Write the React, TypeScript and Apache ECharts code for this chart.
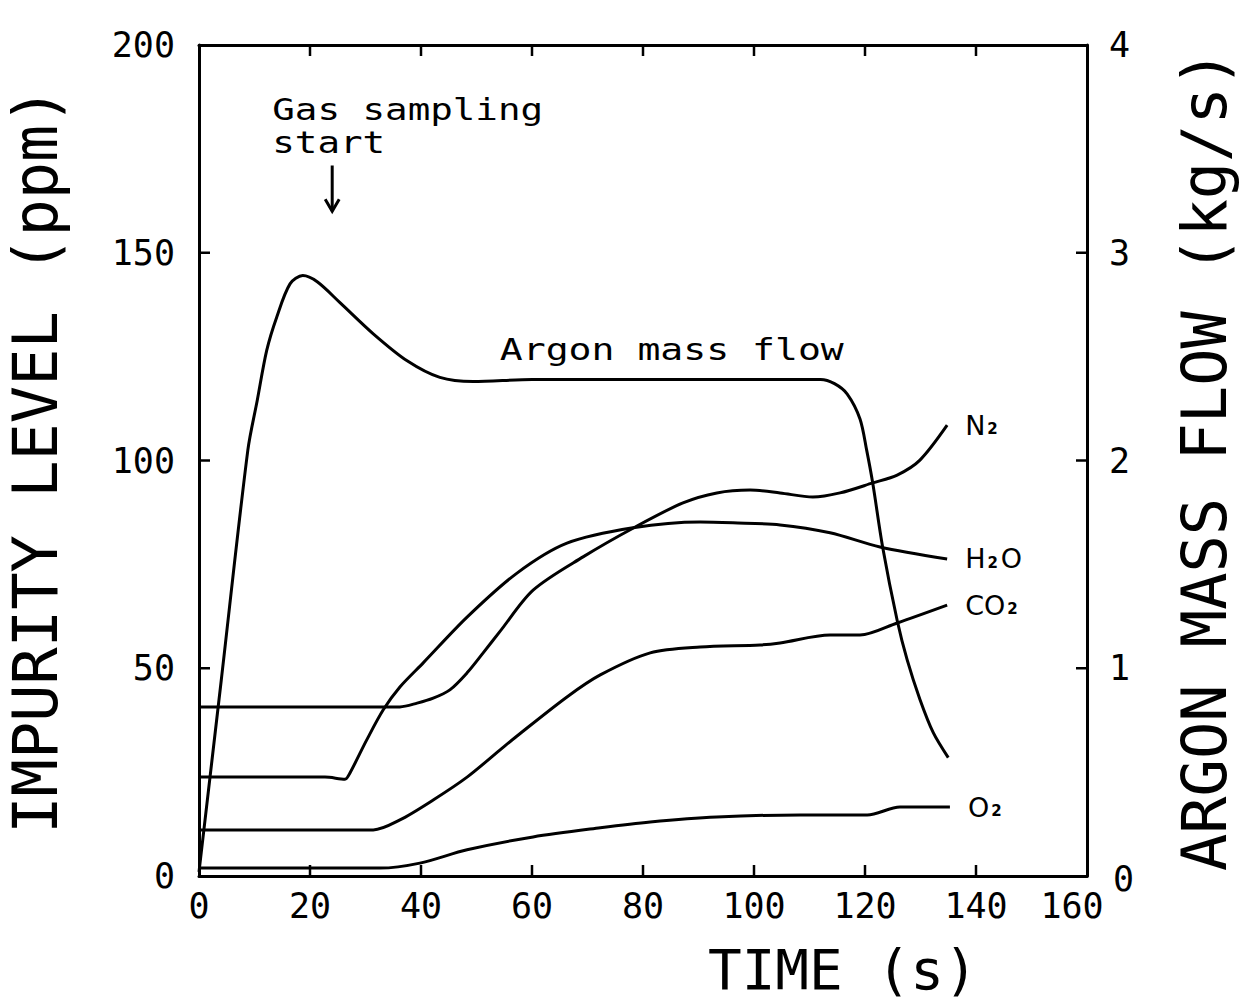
import React, { useEffect, useRef } from "react";
import * as echarts from "echarts";

// Axis ticks
const xTicks = [0, 20, 40, 60, 80, 100, 120, 140, 160];
const ppmTicks = [0, 50, 100, 150, 200];
const flowTicks = [0, 1, 2, 3, 4];

// Argon mass flow (kg/s), right axis
const argonTime = [0, 4, 8.8, 10.5, 12.2, 14, 16.4, 18.7, 21.3, 25.4, 31.4, 37.5, 43.4, 49.4, 60, 80, 100, 112, 114.5, 116.8, 119.1, 120.3, 121.4, 123.2, 125.8, 127.6, 129.9, 132.3, 135];
const argonFlow = [0.02, 0.94, 2.05, 2.29, 2.53, 2.69, 2.85, 2.89, 2.86, 2.76, 2.61, 2.48, 2.4, 2.38, 2.39, 2.39, 2.39, 2.39, 2.37, 2.32, 2.2, 2.05, 1.89, 1.58, 1.23, 1.04, 0.85, 0.69, 0.57];

// Impurity levels (ppm), left axis
const n2Time = [0, 36.2, 39.3, 42.2, 45.2, 48.3, 51.2, 54.2, 60.2, 69.2, 78.6, 87.2, 93.3, 99.3, 104.7, 110.6, 115.5, 121.4, 125.8, 129.9, 134.8];
const n2Ppm = [40.7, 40.7, 41.6, 42.8, 44.8, 48.9, 53.7, 58.8, 68.8, 76.8, 84.0, 89.8, 92.2, 92.9, 92.2, 91.2, 92.2, 94.6, 96.5, 100.1, 108.5];

const h2oTime = [0, 22.7, 26.3, 27.2, 30.2, 33.2, 36.2, 40.4, 48.3, 57.3, 66.3, 78.2, 90.3, 96.2, 104.7, 113.7, 122.7, 134.8];
const h2oPpm = [23.8, 23.8, 23.3, 24.8, 32.7, 40.0, 45.5, 51.3, 62.3, 72.9, 80.1, 83.8, 85.2, 85.0, 84.5, 82.6, 79.2, 76.3];

const co2Time = [0, 31.4, 36.2, 42.2, 48.3, 54.2, 57.3, 66.3, 72.3, 81.3, 90.3, 101.1, 104.7, 113.7, 119.1, 125.8, 134.8];
const co2Ppm = [11.1, 11.1, 13.5, 18.3, 23.8, 30.3, 33.7, 43.1, 48.4, 53.7, 55.1, 55.6, 56.1, 58.0, 58.0, 60.9, 65.2];

const o2Time = [0, 32.6, 39.8, 48.3, 60.2, 72.3, 81.3, 93.3, 108.3, 120.4, 126.3, 135.3];
const o2Ppm = [1.9, 1.9, 3.1, 6.3, 9.4, 11.6, 13.0, 14.2, 14.7, 14.7, 16.6, 16.6];

const FONT = '"DejaVu Sans Mono", monospace';

const zip = (xs: number[], ys: number[]) => xs.map((x, i) => [x, ys[i]]);

const lineSeries = (name: string, data: number[][], yAxisIndex: number, label?: string) => ({
  name,
  type: "line",
  yAxisIndex,
  data,
  symbol: "none",
  smooth: 0.3,
  lineStyle: { color: "#000", width: 3 },
  endLabel: label
    ? {
        show: true,
        distance: 18,
        formatter: label,
        rich: {
          a: { fontFamily: '"DejaVu Sans", sans-serif', fontSize: 27, color: "#000" },
          s: { fontFamily: '"DejaVu Sans", sans-serif', fontSize: 15, fontWeight: "bold", color: "#000", padding: [8, 3, 0, 2] },
        },
      }
    : { show: false },
});

const noTick = () => ({ show: false });
const mkLine = () => ({ show: true, onZero: false, lineStyle: { color: "#000", width: 3 } });

export default function App() {
  const ref = useRef<HTMLDivElement>(null);
  useEffect(() => {
    if (!ref.current) return;
    const chart = echarts.init(ref.current, undefined, { renderer: "svg" });
    const tickLabel = { color: "#000", fontFamily: FONT, fontSize: 35 };
    chart.setOption({
      animation: false,
      backgroundColor: "#fff",
      grid: { left: 199, right: 157, top: 45, bottom: 129, containLabel: false, outerBoundsMode: "none" },
      xAxis: [
        {
          type: "value",
          min: xTicks[0],
          max: xTicks[xTicks.length - 1],
          interval: 20,
          position: "bottom",
          axisLine: mkLine(),
          axisTick: noTick(),
          splitLine: { show: false },
          axisLabel: {
            ...tickLabel,
            margin: 12,
            formatter: (v: number) => (v === 160 ? "{m|160}" : String(v)),
            rich: { m: { ...tickLabel, padding: [0, 30, 0, 0] } },
          },
        },
        {
          type: "value",
          min: xTicks[0],
          max: xTicks[xTicks.length - 1],
          interval: 20,
          position: "top",
          axisLine: mkLine(),
          axisTick: noTick(),
          splitLine: { show: false },
          axisLabel: { show: false },
        },
      ],
      yAxis: [
        {
          type: "value",
          min: ppmTicks[0],
          max: ppmTicks[ppmTicks.length - 1],
          interval: 50,
          position: "left",
          axisLine: mkLine(),
          axisTick: noTick(),
          splitLine: { show: false },
          axisLabel: { ...tickLabel, margin: 24 },
          name: "IMPURITY LEVEL (ppm)",
          nameLocation: "middle",
          nameGap: 133,
          nameTextStyle: { color: "#000", fontFamily: FONT, fontSize: 62 },
        },
        {
          type: "value",
          min: flowTicks[0],
          max: flowTicks[flowTicks.length - 1],
          interval: 1,
          position: "right",
          axisLine: mkLine(),
          axisTick: noTick(),
          splitLine: { show: false },
          axisLabel: {
            ...tickLabel,
            margin: 22,
            formatter: (v: number) => (v === 0 ? "{z|0}" : String(v)),
            rich: { z: { ...tickLabel, padding: [6, 0, 0, 4] } },
          },
          name: "ARGON MASS FLOW (kg/s)",
          nameLocation: "middle",
          nameGap: 86,
          nameRotate: 90,
          nameTextStyle: { color: "#000", fontFamily: FONT, fontSize: 62 },
        },
      ],
      series: [
        lineSeries("Argon mass flow", zip(argonTime, argonFlow), 1),
        lineSeries("N2", zip(n2Time, n2Ppm), 0, "{a|N}{s|2}"),
        lineSeries("H2O", zip(h2oTime, h2oPpm), 0, "{a|H}{s|2}{a|O}"),
        lineSeries("CO2", zip(co2Time, co2Ppm), 0, "{a|CO}{s|2}"),
        lineSeries("O2", zip(o2Time, o2Ppm), 0, "{a|O}{s|2}"),
      ],
    });

    const px = (x: number, y: number) => chart.convertToPixel({ xAxisIndex: 0, yAxisIndex: 0 }, [x, y]) as number[];
    const pxR = (x: number, y: number) => chart.convertToPixel({ xAxisIndex: 0, yAxisIndex: 1 }, [x, y]) as number[];
    const xMin = xTicks[0];
    const xMax = xTicks[xTicks.length - 1];
    const yMin = ppmTicks[0];
    const yMax = ppmTicks[ppmTicks.length - 1];
    const TL = 11;
    const tickStyle = { stroke: "#000", lineWidth: 2.5 };
    const ticks: any[] = [];
    xTicks.slice(1, -1).forEach((t) => {
      const b = px(t, yMin);
      const tp = px(t, yMax);
      ticks.push({ type: "line", shape: { x1: b[0], y1: b[1], x2: b[0], y2: b[1] - TL }, style: tickStyle });
      ticks.push({ type: "line", shape: { x1: tp[0], y1: tp[1], x2: tp[0], y2: tp[1] + TL }, style: tickStyle });
    });
    ppmTicks.slice(1, -1).forEach((t) => {
      const p = px(xMin, t);
      ticks.push({ type: "line", shape: { x1: p[0], y1: p[1], x2: p[0] + TL, y2: p[1] }, style: tickStyle });
    });
    flowTicks.slice(1, -1).forEach((t) => {
      const p = pxR(xMax, t);
      ticks.push({ type: "line", shape: { x1: p[0], y1: p[1], x2: p[0] - TL, y2: p[1] }, style: tickStyle });
    });

    const gas1 = px(13.2, 184.5);
    const gas2 = px(13.2, 176.5);
    const arrowTop = px(24, 171);
    const arrowBot = px(24, 160);
    const argonPos = px(54.2, 126.6);
    const timePos = px(116, 0);
    const textStyle = (text: string, size: number, align = "left") => ({
      text,
      fill: "#000",
      fontFamily: FONT,
      fontSize: size,
      verticalAlign: "middle",
      align,
    });
    chart.setOption({
      graphic: [
        ...ticks,
        { type: "text", x: gas1[0], y: gas1[1], scaleX: 1.25, style: textStyle("Gas sampling", 30) },
        { type: "text", x: gas2[0], y: gas2[1], scaleX: 1.25, style: textStyle("start", 30) },
        {
          type: "line",
          shape: { x1: arrowTop[0], y1: arrowTop[1], x2: arrowBot[0], y2: arrowBot[1] },
          style: { stroke: "#000", lineWidth: 3 },
        },
        {
          type: "polyline",
          shape: {
            points: [
              [arrowBot[0] - 7, arrowBot[1] - 12],
              [arrowBot[0], arrowBot[1]],
              [arrowBot[0] + 7, arrowBot[1] - 12],
            ],
          },
          style: { stroke: "#000", lineWidth: 3, fill: null },
        },
        { type: "text", x: argonPos[0], y: argonPos[1], scaleX: 1.27, style: textStyle("Argon mass flow", 30) },
        { type: "text", x: timePos[0], y: timePos[1] + 93, style: textStyle("TIME (s)", 56, "center") },
      ],
    });
    return () => chart.dispose();
  }, []);
  return <div ref={ref} style={{ position: "fixed", left: 0, top: 0, width: 1244, height: 1005 }} />;
}
